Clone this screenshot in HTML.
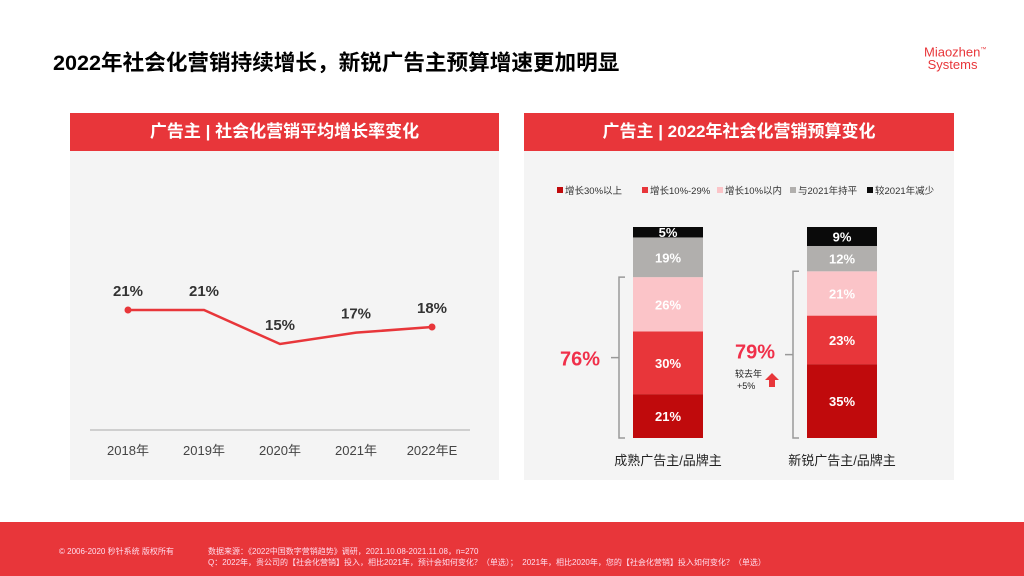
<!DOCTYPE html>
<html><head><meta charset="utf-8"><style>
body{margin:0;width:1024px;height:576px;overflow:hidden;background:#fff;font-family:"Liberation Sans","Noto Sans CJK SC",sans-serif;position:relative}
.abs{position:absolute}
.hdr{background:#e8363a;color:#fff;font-weight:bold;font-size:17px;text-align:center;line-height:38px}
.panel{background:#f4f4f4}
</style></head><body>
<div class="abs" style="left:53px;top:48px;font-size:21.6px;font-weight:bold;color:#000;white-space:nowrap;line-height:30px">2022年社会化营销持续增长，新锐广告主预算增速更加明显</div>
<div class="abs" style="left:924px;top:44px;color:#e8363a;font-size:13px;line-height:13px;font-family:'Liberation Sans Narrow','Liberation Sans',sans-serif">Miaozhen<sup style="font-size:6px">™</sup><br>&nbsp;Systems</div>

<div class="abs panel" style="left:70px;top:113px;width:429px;height:367px"></div>
<div class="abs hdr" style="left:70px;top:113px;width:429px;height:38px">广告主 | 社会化营销平均增长率变化</div>
<div class="abs panel" style="left:524px;top:113px;width:430px;height:367px"></div>
<div class="abs hdr" style="left:524px;top:113px;width:430px;height:38px">广告主 | 2022年社会化营销预算变化</div>

<svg class="abs" style="left:0;top:0" width="1024" height="576">
<g id="line"></g><g id="bars"></g>
</svg>

<div class="abs" style="left:0;top:522px;width:1024px;height:54px;background:#e8363a"></div>
<div class="abs" style="left:59px;top:546px;font-size:8px;color:#fde;white-space:nowrap">© 2006-2020 秒针系统 版权所有</div>
<div class="abs" style="left:208px;top:546px;font-size:8px;color:#fde;white-space:nowrap;line-height:11px">数据来源：《2022中国数字营销趋势》调研，2021.10.08-2021.11.08，n=270<br>Q：2022年，贵公司的【社会化营销】投入，相比2021年，预计会如何变化？（单选）；&nbsp; 2021年，相比2020年，您的【社会化营销】投入如何变化？（单选）</div>

<script>
const years=["2018年","2019年","2020年","2021年","2022年E"];
const growth=[21,21,15,17,18];
const groups=["成熟广告主/品牌主","新锐广告主/品牌主"];
const segNames=["增长30%以上","增长10%-29%","增长10%以内","与2021年持平","较2021年减少"];
const matureVals=[21,30,26,19,5];
const newVals=[35,23,21,12,9];
const totals=[76,79];
const colors=["#c00a0c","#e8363a","#fbc4c8","#b1afad","#0a0a0a"];
const NS="http://www.w3.org/2000/svg";
function mk(t,a,p,txt){const e=document.createElementNS(NS,t);for(const k in a)e.setAttribute(k,a[k]);if(txt!=null)e.textContent=txt;p.appendChild(e);return e;}
const L=document.getElementById('line');
const xL=i=>128+i*76, yL=v=>310+(21-v)*5.67;
const ax=mk('line',{x1:90,x2:470,y1:430,y2:430,stroke:'#aaa','stroke-width':1},L);

const pl=mk('polyline',{points:growth.map((v,i)=>xL(i)+','+yL(v)).join(' '),fill:'none',stroke:'#e8363a','stroke-width':2.5},L);

growth.forEach((v,i)=>{
 if(i==0||i==growth.length-1){const c=mk('circle',{cx:xL(i),cy:yL(v),r:3.5,fill:'#e8363a'},L);}
 const t=mk('text',{x:xL(i),y:yL(v)-14,'text-anchor':'middle','font-size':15,'font-weight':'bold',fill:'#333'},L,v+'%');
 
 const y=mk('text',{x:xL(i),y:455,'text-anchor':'middle','font-size':13,fill:'#444'},L,years[i]);
 
});
const B=document.getElementById('bars');
const lx=[557,642,717,790,867];
segNames.forEach((n,i)=>{
 const r=mk('rect',{x:lx[i],y:187,width:6,height:6,fill:colors[i]},B);
 const t=mk('text',{x:lx[i]+8,y:194,'font-size':9.5,fill:'#333'},B,n);
});
const base=438, H=211;
[matureVals,newVals].forEach((vals,g)=>{
 const x0=g==0?633:807, w=70; let y=base;
 const sum=vals.reduce((a,b)=>a+b,0);
 vals.forEach((v,i)=>{
  const h=v/sum*H; y-=h;
  const r=mk('rect',{x:x0,y:y,width:w,height:h,fill:colors[i]},B);
  const t=mk('text',{x:x0+w/2,y:y+h/2+5,'text-anchor':'middle','font-size':13,'font-weight':'bold',fill:'#fff'},B,v+'%');
 });
 const c=mk('text',{x:x0+w/2,y:465,'text-anchor':'middle','font-size':13,fill:'#222'},B,groups[g]);
 const top=base-(vals[0]+vals[1]+vals[2])/sum*H, bx=x0-14;
 const br=mk('path',{d:`M${bx+6},${top} H${bx} V${base} H${bx+6} M${bx},${(top+base)/2} H${bx-8}`,fill:'none',stroke:'#999','stroke-width':1.5},B);
 const tt=mk('text',{x:g==0?580:755,y:(top+base)/2+(g==0?8:4),'text-anchor':'middle','font-size':20,'font-weight':'bold',fill:'#f0304a'},B,totals[g]+'%');
});
const n1=mk('text',{x:735,y:377,'font-size':9,fill:'#222'},B,'较去年');
const n2=mk('text',{x:737,y:389,'font-size':9,fill:'#222'},B,'+5%');
const ar=mk('path',{d:'M772,373 L779,380 H775 V387 H769 V380 H765 Z',fill:'#e8363a'},B);
</script>
</body></html>
